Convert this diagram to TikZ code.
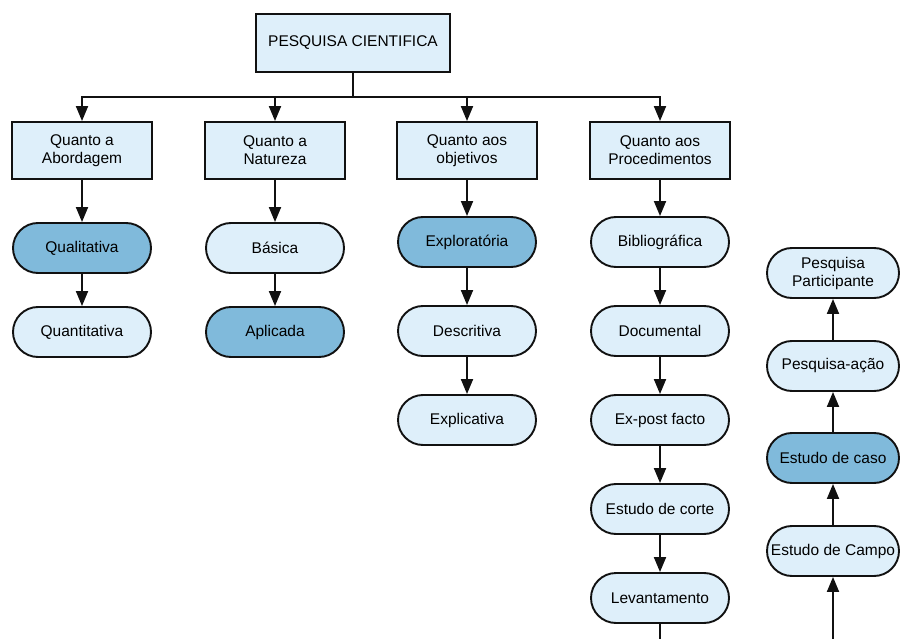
\documentclass[tikz,border=0pt]{standalone}
\usepackage{fontspec}
\setmainfont{Liberation Sans}
\usetikzlibrary{shapes.misc,arrows.meta}
\definecolor{lightfill}{HTML}{DEEFFA}
\definecolor{darkfill}{HTML}{80BADB}
\definecolor{inkc}{HTML}{111111}
\tikzset{
  catbox/.style={draw=inkc, line width=1.9pt, fill=lightfill, rectangle, minimum width=140pt, minimum height=57pt, align=center, inner sep=2pt, font=\fontsize{15.5}{18}\selectfont},
  pill/.style={draw=inkc, line width=1.9pt, fill=lightfill, rounded rectangle, minimum width=140pt, minimum height=50pt, align=center, inner sep=1pt, font=\fontsize{15.5}{18}\selectfont},
  darkpill/.style={pill, fill=darkfill},
  rpill/.style={pill, minimum width=134pt},
  conn/.style={draw=inkc, line width=1.9pt},
  arr/.style={conn, -{Triangle[length=15pt,width=12pt]}}
}
\begin{document}
\begin{tikzpicture}[x=1pt,y=-1pt]
\useasboundingbox (0,0) rectangle (900,639);
% top
\node[catbox, minimum width=194pt, minimum height=58pt] (top) at (353,43) {PESQUISA CIENTIFICA};
\coordinate (bus) at (353,97);
% categories
\node[catbox] (abord) at (82,150.5) {Quanto a\\Abordagem};
\node[catbox] (natur) at (275,150.5) {Quanto a\\Natureza};
\node[catbox] (objet) at (467,150.5) {Quanto aos\\objetivos};
\node[catbox] (proc) at (660,150.5) {Quanto aos\\Procedimentos};
% column 1
\node[darkpill] (qual) at (82,248) {Qualitativa};
\node[pill] (quant) at (82,332) {Quantitativa};
% column 2
\node[pill] (bas) at (275,248) {Básica};
\node[darkpill] (apl) at (275,332) {Aplicada};
% column 3
\node[darkpill] (expl) at (467,242) {Exploratória};
\node[pill] (desc) at (467,331) {Descritiva};
\node[pill] (expc) at (467,420) {Explicativa};
% column 4
\node[pill] (bib) at (660,242) {Bibliográfica};
\node[pill] (doc) at (660,331) {Documental};
\node[pill] (expf) at (660,420) {Ex-post facto};
\node[pill] (corte) at (660,509) {Estudo de corte};
\node[pill] (lev) at (660,598) {Levantamento};
\coordinate (levend) at (660,645);
% column 5
\node[rpill] (part) at (833,273) {Pesquisa\\Participante};
\node[rpill] (acao) at (833,366) {Pesquisa-ação};
\node[darkpill, minimum width=134pt] (caso) at (833,458) {Estudo de caso};
\node[rpill] (campo) at (833,551) {Estudo de Campo};
\coordinate (campostart) at (833,645);
% connectors
\draw[conn] (top.south) -- (bus);
\draw[arr] (bus) -| (abord.north);
\draw[arr] (bus) -| (natur.north);
\draw[arr] (bus) -| (objet.north);
\draw[arr] (bus) -| (proc.north);
\draw[arr] (abord) -- (qual);
\draw[arr] (qual) -- (quant);
\draw[arr] (natur) -- (bas);
\draw[arr] (bas) -- (apl);
\draw[arr] (objet) -- (expl);
\draw[arr] (expl) -- (desc);
\draw[arr] (desc) -- (expc);
\draw[arr] (proc) -- (bib);
\draw[arr] (bib) -- (doc);
\draw[arr] (doc) -- (expf);
\draw[arr] (expf) -- (corte);
\draw[arr] (corte) -- (lev);
\draw[conn] (lev) -- (levend);
\draw[arr] (campostart) -- (campo);
\draw[arr] (campo) -- (caso);
\draw[arr] (caso) -- (acao);
\draw[arr] (acao) -- (part);
\end{tikzpicture}
\end{document}
